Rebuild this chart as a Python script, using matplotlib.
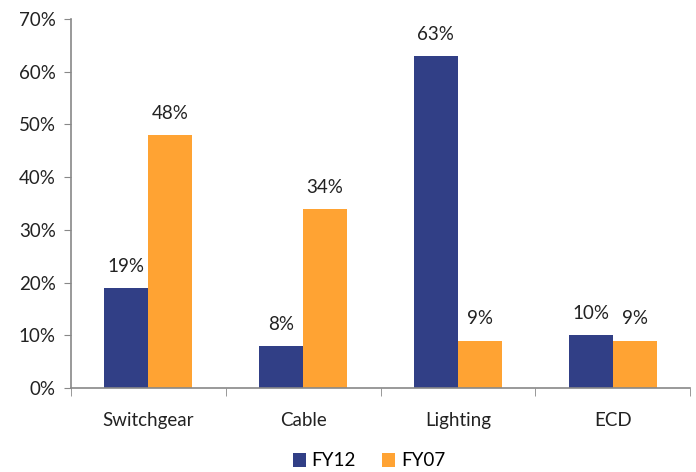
import matplotlib
matplotlib.use("Agg")
import matplotlib.pyplot as plt
import numpy as np
from matplotlib.ticker import FuncFormatter, MultipleLocator

categories = ["Switchgear", "Cable", "Lighting", "ECD"]
fy12 = [19, 8, 63, 10]
fy07 = [48, 34, 9, 9]
series_names = ["FY12", "FY07"]

plt.rcParams["font.family"] = ["Lato", "DejaVu Sans"]

fig = plt.figure(figsize=(6.96, 4.72), dpi=100)
ax = fig.add_axes([71 / 696, 1 - 388 / 472, (690 - 71) / 696, (388 - 19) / 472])

x = np.arange(len(categories))
w = 0.284
c12 = "#313F86"
c07 = "#FFA333"
b1 = ax.bar(x - w / 2, fy12, w, color=c12, label=series_names[0])
b2 = ax.bar(x + w / 2, fy07, w, color=c07, label=series_names[1])

fs = 13.5
for bars, vals in ((b1, fy12), (b2, fy07)):
    for r, v in zip(bars, vals):
        ax.text(r.get_x() + r.get_width() / 2, v + 2.5, f"{v}%",
                ha="center", va="bottom", fontsize=fs, color="#222222")

ax.set_xlim(-0.5, len(categories) - 0.5)
ax.set_ylim(0, 70)
ax.yaxis.set_major_locator(MultipleLocator(10))
ax.yaxis.set_major_formatter(FuncFormatter(lambda v, p: f"{v:.0f}%"))

ax.set_xticks(x)
ax.set_xticklabels(categories)
ax.set_xticks(np.arange(len(categories) + 1) - 0.5, minor=True)
ax.tick_params(axis="x", which="major", length=0, pad=17, labelsize=fs, labelcolor="#222222")
ax.tick_params(axis="x", which="minor", length=6, direction="out", color="#888888")
ax.tick_params(axis="y", length=5, direction="out", color="#888888", labelsize=fs,
               labelcolor="#222222", pad=6)

for s in ("top", "right"):
    ax.spines[s].set_visible(False)
for s in ("left", "bottom"):
    ax.spines[s].set_color("#888888")
    ax.spines[s].set_linewidth(1.2)

fig.legend(handles=[b1, b2], loc="center", bbox_to_anchor=(0.53, 1 - 461 / 472),
           ncol=2, frameon=False, fontsize=fs, handlelength=0.7, handleheight=0.7,
           columnspacing=1.4, handletextpad=0.3, borderaxespad=0, borderpad=0.1)

fig.savefig("out.png", dpi=100)
